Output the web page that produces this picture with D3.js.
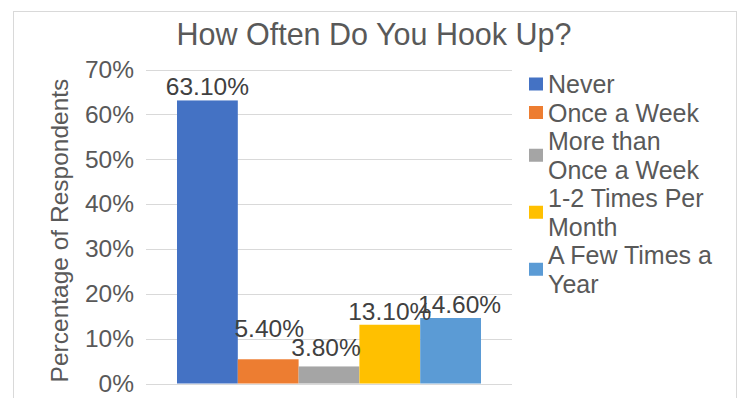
<!DOCTYPE html>
<html>
<head>
<meta charset="utf-8">
<script src="https://cdn.jsdelivr.net/npm/d3@7"></script>
<style>
  html, body { margin: 0; padding: 0; background: #fff; }
  svg { display: block; font-family: "Liberation Sans", Arial, sans-serif; }
</style>
</head>
<body>
<svg id="chart" width="739" height="398"></svg>
<script>
// Survey answers and their shares
const categories = ["Never", "Once a Week", "More than Once a Week", "1-2 Times Per Month", "A Few Times a Year"];
const values = [0.631, 0.054, 0.038, 0.131, 0.146];
const valueLabels = ["63.10%", "5.40%", "3.80%", "13.10%", "14.60%"];
const yTicks = [0, 0.1, 0.2, 0.3, 0.4, 0.5, 0.6, 0.7];
const legendLines = [["Never"], ["Once a Week"], ["More than", "Once a Week"], ["1-2 Times Per", "Month"], ["A Few Times a", "Year"]];
const colors = ["#4472C4", "#ED7D31", "#A5A5A5", "#FFC000", "#5B9BD5"];

const svg = d3.select("#chart");

// outer chart frame
svg.append("rect")
  .attr("x", 13.5).attr("y", 11.5)
  .attr("width", 723).attr("height", 420)
  .attr("fill", "#fff").attr("stroke", "#d9d9d9").attr("stroke-width", 1);

const plot = { left: 146, right: 512, top: 69.5, bottom: 383.5 };

const y = d3.scaleLinear().domain([0, 0.7]).range([plot.bottom, plot.top]);
const x = d3.scaleBand().domain(categories).range([177, 481]).paddingInner(0);

// gridlines
svg.append("g").selectAll("line").data(yTicks).join("line")
  .attr("x1", plot.left).attr("x2", plot.right)
  .attr("y1", d => Math.round(y(d)) + 0.5).attr("y2", d => Math.round(y(d)) + 0.5)
  .attr("stroke", "#d9d9d9").attr("stroke-width", 1);

// y axis tick labels
const yAxis = d3.axisLeft(y).tickValues(yTicks).tickFormat(d3.format(".0%")).tickSize(0).tickPadding(0);
const ya = svg.append("g").attr("transform", "translate(134,0)").call(yAxis);
ya.select(".domain").remove();
ya.selectAll("text")
  .attr("font-size", 24.5).attr("fill", "#595959")
  .attr("font-family", "Liberation Sans, Arial, sans-serif");

// y axis title
svg.append("text")
  .attr("transform", `translate(68,${(plot.top + plot.bottom) / 2 + 4}) rotate(-90)`)
  .attr("text-anchor", "middle")
  .attr("font-size", 24.5).attr("fill", "#595959")
  .text("Percentage of Respondents");

// bars
svg.append("g").selectAll("rect").data(categories).join("rect")
  .attr("x", d => x(d))
  .attr("width", x.bandwidth())
  .attr("y", (d, i) => y(values[i]))
  .attr("height", (d, i) => y(0) - y(values[i]))
  .attr("fill", (d, i) => colors[i]);

// value labels, nudged where neighbours would collide
const labelNudge = [[0, 0], [1, -17], [-3, -5], [0, 0], [9, 0]];
svg.append("g").selectAll("text").data(categories).join("text")
  .attr("x", (d, i) => x(d) + x.bandwidth() / 2 + labelNudge[i][0])
  .attr("y", (d, i) => y(values[i]) - 5 + labelNudge[i][1])
  .attr("text-anchor", "middle")
  .attr("font-size", 24.5).attr("fill", "#404040")
  .text((d, i) => valueLabels[i]);

// title
svg.append("text")
  .attr("x", 374).attr("y", 45)
  .attr("text-anchor", "middle")
  .attr("font-size", 30.5).attr("fill", "#595959")
  .text("How Often Do You Hook Up?");

// legend
const lineH = 28.5;
let lineY = 84;
const legend = svg.append("g");
legendLines.forEach((lines, i) => {
  const first = lineY;
  const last = lineY + (lines.length - 1) * lineH;
  const mid = (first + last) / 2;
  legend.append("rect")
    .attr("x", 529).attr("y", mid - 6.5)
    .attr("width", 14).attr("height", 13)
    .attr("fill", colors[i]);
  lines.forEach((t, k) => {
    legend.append("text")
      .attr("x", 548).attr("y", first + k * lineH + 9)
      .attr("font-size", 25).attr("fill", "#595959")
      .text(t);
  });
  lineY = last + lineH;
});
</script>
</body>
</html>
